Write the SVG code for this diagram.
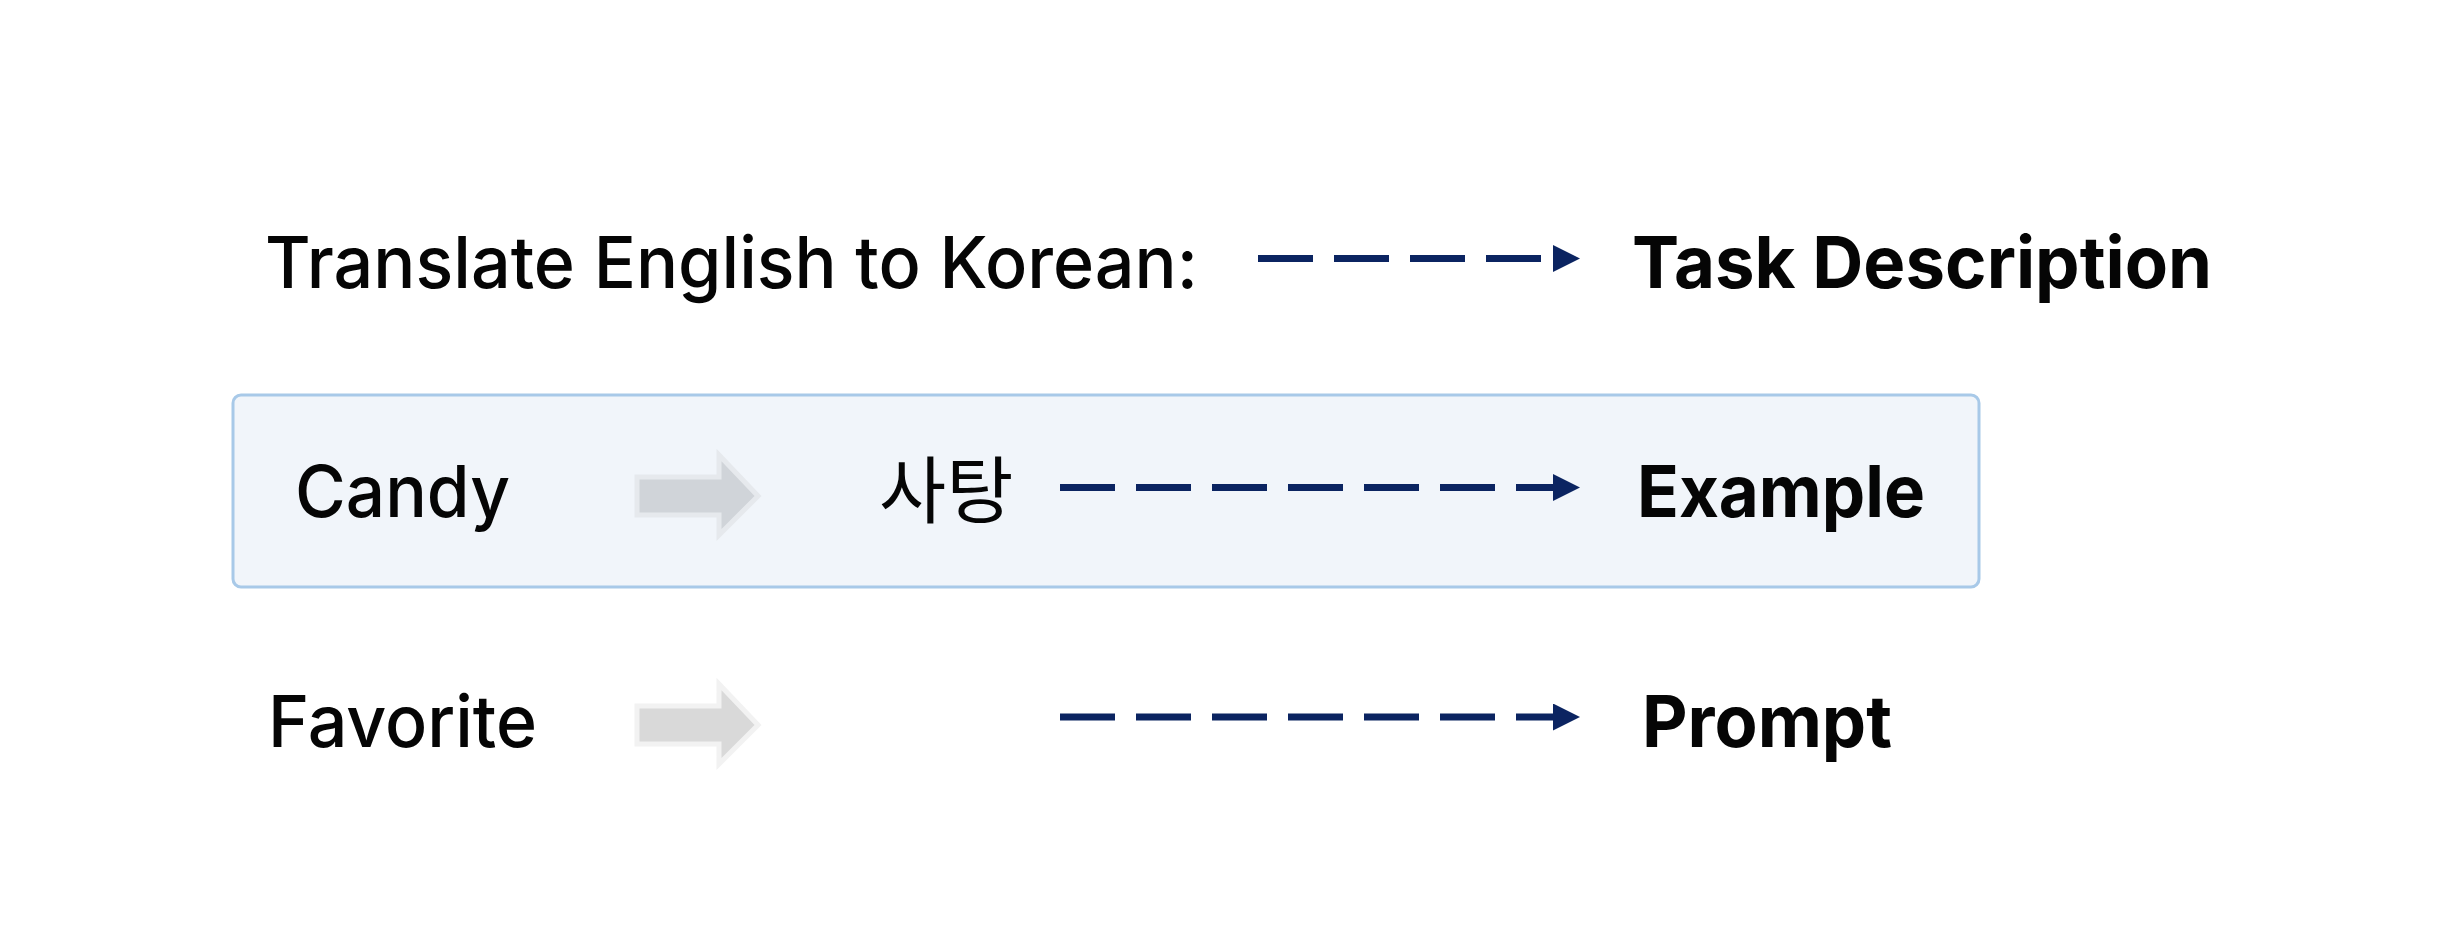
<svg xmlns="http://www.w3.org/2000/svg" width="2447" height="948" viewBox="0 0 2447 948">
  <defs>
    <style>
      .lbl { font-family: Inter, "Liberation Sans", "Noto Sans CJK KR", sans-serif; font-size: 72px; font-weight: 500; fill: #050505; }
      .kr { font-family: "Noto Sans CJK KR", sans-serif; font-size: 73px; font-weight: 400; fill: #050505; }
      .ttl { font-family: Inter, "Liberation Sans", sans-serif; font-size: 72px; font-weight: 700; fill: #050505; }
      .dash { stroke: #0b2461; stroke-width: 7; stroke-dasharray: 55 21; fill: none; }
      .blk1 { fill: #d0d4d9; stroke: #e6e9ed; stroke-width: 5; }
      .blk2 { fill: #d9d9d9; stroke: #f2f2f2; stroke-width: 5; }
    </style>
    <marker id="ah" markerUnits="userSpaceOnUse" markerWidth="28" markerHeight="28" refX="0" refY="13.5" orient="auto">
      <path d="M0,0 L27,13.5 L0,27 Z" fill="#0b2461"/>
    </marker>
  </defs>
  <rect width="2447" height="948" fill="#ffffff"/>

  <g id="example-box">
    <rect x="233" y="395" width="1746" height="192" rx="8" fill="#f1f5fa" stroke="#a8c9e8" stroke-width="3"/>
  </g>

  <g id="task-text">
    <text class="lbl" x="265" y="288" textLength="933" lengthAdjust="spacingAndGlyphs">Translate English to Korean:</text>
  </g>
  <g id="task-description">
    <text class="ttl" x="1632" y="288" textLength="580" lengthAdjust="spacingAndGlyphs">Task Description</text>
  </g>

  <g id="candy">
    <text class="lbl" x="295" y="517" textLength="215" lengthAdjust="spacingAndGlyphs">Candy</text>
  </g>
  <g id="candy-arrow">
    <polygon class="blk1" points="637,477 719,477 719,455 758,496 719,535 719,515 637,515"/>
  </g>
  <g id="satang">
    <text class="kr" x="879" y="517">사탕</text>
  </g>
  <g id="example">
    <text class="ttl" x="1637" y="517" textLength="288" lengthAdjust="spacingAndGlyphs">Example</text>
  </g>

  <g id="favorite">
    <text class="lbl" x="268" y="747" textLength="269" lengthAdjust="spacingAndGlyphs">Favorite</text>
  </g>
  <g id="favorite-arrow">
    <polygon class="blk2" points="637,706 719,706 719,684 758,725 719,764 719,744 637,744"/>
  </g>
  <g id="prompt">
    <text class="ttl" x="1642" y="747" textLength="250" lengthAdjust="spacingAndGlyphs">Prompt</text>
  </g>

  <g id="connectors">
    <line class="dash" x1="1258" y1="258.5" x2="1553" y2="258.5" marker-end="url(#ah)"/>
    <line class="dash" x1="1060" y1="487.5" x2="1553" y2="487.5" marker-end="url(#ah)"/>
    <line class="dash" x1="1060" y1="717" x2="1553" y2="717" marker-end="url(#ah)"/>
  </g>
</svg>
